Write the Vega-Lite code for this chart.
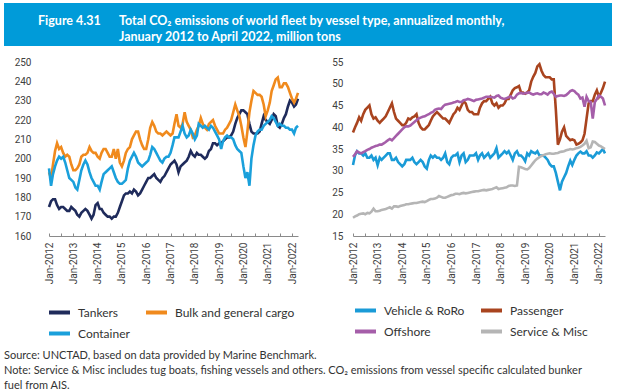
{
  "$schema": "https://vega.github.io/schema/vega-lite/v6.json",
  "background": "white",
  "padding": {"left": 4, "top": 3, "right": 4, "bottom": 2},
  "title": {"text": "Figure 4.31", "anchor": "start", "align": "left", "frame": "group", "dx": 34, "offset": -24, "color": "white", "font": "Lato", "fontSize": 12.5, "fontWeight": "bold"},
  "config": {
    "view": {"stroke": null},
    "axis": {"labelFont": "Roboto", "labelFontSize": 10, "labelColor": "#404040", "grid": false, "title": null},
    "legend": {"title": null, "columns": 2, "direction": "horizontal", "rowPadding": 0, "symbolType": "stroke", "symbolSize": 441, "symbolStrokeWidth": 4, "labelFont": "Lato", "labelFontSize": 12, "labelColor": "#333333", "labelOffset": 6, "padding": 0}
  },
  "datasets": {
    "L": [
      {"d":"2012-01","Tankers":175,"Bulk and general cargo":193,"Container":195},
      {"d":"2012-02","Tankers":178,"Bulk and general cargo":190,"Container":186},
      {"d":"2012-03","Tankers":179,"Bulk and general cargo":197,"Container":192},
      {"d":"2012-04","Tankers":179,"Bulk and general cargo":204,"Container":196},
      {"d":"2012-05","Tankers":176,"Bulk and general cargo":208,"Container":199},
      {"d":"2012-06","Tankers":174,"Bulk and general cargo":205,"Container":201},
      {"d":"2012-07","Tankers":175,"Bulk and general cargo":206,"Container":200},
      {"d":"2012-08","Tankers":175,"Bulk and general cargo":203,"Container":201},
      {"d":"2012-09","Tankers":174,"Bulk and general cargo":201,"Container":198},
      {"d":"2012-10","Tankers":173,"Bulk and general cargo":202,"Container":194},
      {"d":"2012-11","Tankers":173,"Bulk and general cargo":201,"Container":190},
      {"d":"2012-12","Tankers":175,"Bulk and general cargo":197,"Container":189},
      {"d":"2013-01","Tankers":174,"Bulk and general cargo":194,"Container":188},
      {"d":"2013-02","Tankers":173,"Bulk and general cargo":194,"Container":185},
      {"d":"2013-03","Tankers":171,"Bulk and general cargo":195,"Container":184},
      {"d":"2013-04","Tankers":170,"Bulk and general cargo":197,"Container":189},
      {"d":"2013-05","Tankers":172,"Bulk and general cargo":201,"Container":194},
      {"d":"2013-06","Tankers":173,"Bulk and general cargo":202,"Container":197},
      {"d":"2013-07","Tankers":174,"Bulk and general cargo":202,"Container":199},
      {"d":"2013-08","Tankers":173,"Bulk and general cargo":203,"Container":197},
      {"d":"2013-09","Tankers":171,"Bulk and general cargo":206,"Container":193},
      {"d":"2013-10","Tankers":169,"Bulk and general cargo":204,"Container":190},
      {"d":"2013-11","Tankers":171,"Bulk and general cargo":203,"Container":188},
      {"d":"2013-12","Tankers":176,"Bulk and general cargo":203,"Container":186},
      {"d":"2014-01","Tankers":177,"Bulk and general cargo":201,"Container":186},
      {"d":"2014-02","Tankers":174,"Bulk and general cargo":200,"Container":184},
      {"d":"2014-03","Tankers":174,"Bulk and general cargo":203,"Container":188},
      {"d":"2014-04","Tankers":172,"Bulk and general cargo":205,"Container":192},
      {"d":"2014-05","Tankers":171,"Bulk and general cargo":205,"Container":193},
      {"d":"2014-06","Tankers":170,"Bulk and general cargo":203,"Container":194},
      {"d":"2014-07","Tankers":170,"Bulk and general cargo":201,"Container":195},
      {"d":"2014-08","Tankers":169,"Bulk and general cargo":201,"Container":196},
      {"d":"2014-09","Tankers":170,"Bulk and general cargo":205,"Container":193},
      {"d":"2014-10","Tankers":170,"Bulk and general cargo":200,"Container":190},
      {"d":"2014-11","Tankers":172,"Bulk and general cargo":205,"Container":188},
      {"d":"2014-12","Tankers":175,"Bulk and general cargo":198,"Container":187},
      {"d":"2015-01","Tankers":178,"Bulk and general cargo":196,"Container":187},
      {"d":"2015-02","Tankers":181,"Bulk and general cargo":199,"Container":188},
      {"d":"2015-03","Tankers":182,"Bulk and general cargo":203,"Container":189},
      {"d":"2015-04","Tankers":182,"Bulk and general cargo":205,"Container":195},
      {"d":"2015-05","Tankers":183,"Bulk and general cargo":206,"Container":199},
      {"d":"2015-06","Tankers":182,"Bulk and general cargo":210,"Container":201},
      {"d":"2015-07","Tankers":184,"Bulk and general cargo":212,"Container":203},
      {"d":"2015-08","Tankers":183,"Bulk and general cargo":214,"Container":201},
      {"d":"2015-09","Tankers":181,"Bulk and general cargo":214,"Container":198},
      {"d":"2015-10","Tankers":182,"Bulk and general cargo":210,"Container":197},
      {"d":"2015-11","Tankers":184,"Bulk and general cargo":207,"Container":196},
      {"d":"2015-12","Tankers":186,"Bulk and general cargo":205,"Container":197},
      {"d":"2016-01","Tankers":188,"Bulk and general cargo":205,"Container":198},
      {"d":"2016-02","Tankers":190,"Bulk and general cargo":210,"Container":199},
      {"d":"2016-03","Tankers":190,"Bulk and general cargo":216,"Container":202},
      {"d":"2016-04","Tankers":191,"Bulk and general cargo":219,"Container":206},
      {"d":"2016-05","Tankers":192,"Bulk and general cargo":217,"Container":205},
      {"d":"2016-06","Tankers":190,"Bulk and general cargo":214,"Container":203},
      {"d":"2016-07","Tankers":189,"Bulk and general cargo":213,"Container":201},
      {"d":"2016-08","Tankers":188,"Bulk and general cargo":213,"Container":199},
      {"d":"2016-09","Tankers":190,"Bulk and general cargo":212,"Container":198},
      {"d":"2016-10","Tankers":191,"Bulk and general cargo":213,"Container":200},
      {"d":"2016-11","Tankers":193,"Bulk and general cargo":214,"Container":201},
      {"d":"2016-12","Tankers":195,"Bulk and general cargo":213,"Container":201},
      {"d":"2017-01","Tankers":197,"Bulk and general cargo":212,"Container":203},
      {"d":"2017-02","Tankers":198,"Bulk and general cargo":213,"Container":207},
      {"d":"2017-03","Tankers":199,"Bulk and general cargo":218,"Container":211},
      {"d":"2017-04","Tankers":197,"Bulk and general cargo":223,"Container":211},
      {"d":"2017-05","Tankers":193,"Bulk and general cargo":217,"Container":211},
      {"d":"2017-06","Tankers":196,"Bulk and general cargo":216,"Container":214},
      {"d":"2017-07","Tankers":197,"Bulk and general cargo":218,"Container":217},
      {"d":"2017-08","Tankers":198,"Bulk and general cargo":224,"Container":213},
      {"d":"2017-09","Tankers":199,"Bulk and general cargo":219,"Container":211},
      {"d":"2017-10","Tankers":201,"Bulk and general cargo":217,"Container":212},
      {"d":"2017-11","Tankers":204,"Bulk and general cargo":215,"Container":215},
      {"d":"2017-12","Tankers":202,"Bulk and general cargo":211,"Container":213},
      {"d":"2018-01","Tankers":201,"Bulk and general cargo":212,"Container":210},
      {"d":"2018-02","Tankers":203,"Bulk and general cargo":215,"Container":212},
      {"d":"2018-03","Tankers":202,"Bulk and general cargo":217,"Container":218},
      {"d":"2018-04","Tankers":202,"Bulk and general cargo":221,"Container":217},
      {"d":"2018-05","Tankers":201,"Bulk and general cargo":218,"Container":216},
      {"d":"2018-06","Tankers":200,"Bulk and general cargo":216,"Container":217},
      {"d":"2018-07","Tankers":201,"Bulk and general cargo":215,"Container":216},
      {"d":"2018-08","Tankers":204,"Bulk and general cargo":218,"Container":215},
      {"d":"2018-09","Tankers":205,"Bulk and general cargo":219,"Container":217},
      {"d":"2018-10","Tankers":208,"Bulk and general cargo":220,"Container":216},
      {"d":"2018-11","Tankers":208,"Bulk and general cargo":217,"Container":214},
      {"d":"2018-12","Tankers":207,"Bulk and general cargo":215,"Container":212},
      {"d":"2019-01","Tankers":208,"Bulk and general cargo":213,"Container":210},
      {"d":"2019-02","Tankers":208,"Bulk and general cargo":213,"Container":205},
      {"d":"2019-03","Tankers":209,"Bulk and general cargo":213,"Container":209},
      {"d":"2019-04","Tankers":210,"Bulk and general cargo":215,"Container":211},
      {"d":"2019-05","Tankers":211,"Bulk and general cargo":216,"Container":212},
      {"d":"2019-06","Tankers":211,"Bulk and general cargo":218,"Container":211},
      {"d":"2019-07","Tankers":212,"Bulk and general cargo":220,"Container":211},
      {"d":"2019-08","Tankers":214,"Bulk and general cargo":224,"Container":210},
      {"d":"2019-09","Tankers":218,"Bulk and general cargo":228,"Container":207},
      {"d":"2019-10","Tankers":221,"Bulk and general cargo":225,"Container":205},
      {"d":"2019-11","Tankers":223,"Bulk and general cargo":222,"Container":204},
      {"d":"2019-12","Tankers":225,"Bulk and general cargo":217,"Container":203},
      {"d":"2020-01","Tankers":225,"Bulk and general cargo":211,"Container":196},
      {"d":"2020-02","Tankers":224,"Bulk and general cargo":206,"Container":190},
      {"d":"2020-03","Tankers":223,"Bulk and general cargo":214,"Container":193},
      {"d":"2020-04","Tankers":218,"Bulk and general cargo":224,"Container":186},
      {"d":"2020-05","Tankers":214,"Bulk and general cargo":230,"Container":200},
      {"d":"2020-06","Tankers":213,"Bulk and general cargo":235,"Container":207},
      {"d":"2020-07","Tankers":213,"Bulk and general cargo":234,"Container":212},
      {"d":"2020-08","Tankers":213,"Bulk and general cargo":233,"Container":214},
      {"d":"2020-09","Tankers":214,"Bulk and general cargo":233,"Container":215},
      {"d":"2020-10","Tankers":218,"Bulk and general cargo":232,"Container":215},
      {"d":"2020-11","Tankers":222,"Bulk and general cargo":228,"Container":217},
      {"d":"2020-12","Tankers":220,"Bulk and general cargo":222,"Container":218},
      {"d":"2021-01","Tankers":219,"Bulk and general cargo":225,"Container":219},
      {"d":"2021-02","Tankers":218,"Bulk and general cargo":229,"Container":220},
      {"d":"2021-03","Tankers":220,"Bulk and general cargo":235,"Container":222},
      {"d":"2021-04","Tankers":223,"Bulk and general cargo":238,"Container":221},
      {"d":"2021-05","Tankers":222,"Bulk and general cargo":241,"Container":219},
      {"d":"2021-06","Tankers":217,"Bulk and general cargo":242,"Container":217},
      {"d":"2021-07","Tankers":216,"Bulk and general cargo":237,"Container":218},
      {"d":"2021-08","Tankers":218,"Bulk and general cargo":237,"Container":217},
      {"d":"2021-09","Tankers":221,"Bulk and general cargo":239,"Container":217},
      {"d":"2021-10","Tankers":223,"Bulk and general cargo":239,"Container":216},
      {"d":"2021-11","Tankers":227,"Bulk and general cargo":237,"Container":216},
      {"d":"2021-12","Tankers":230,"Bulk and general cargo":234,"Container":215},
      {"d":"2022-01","Tankers":229,"Bulk and general cargo":231,"Container":215},
      {"d":"2022-02","Tankers":227,"Bulk and general cargo":229,"Container":213},
      {"d":"2022-03","Tankers":228,"Bulk and general cargo":231,"Container":216},
      {"d":"2022-04","Tankers":231,"Bulk and general cargo":234,"Container":217}
    ],
    "R": [
      {"d":"2012-01","Vehicle & RoRo":31.3,"Passenger":38.8,"Offshore":33.2,"Service & Misc":19.2},
      {"d":"2012-02","Vehicle & RoRo":33.6,"Passenger":40,"Offshore":33.8,"Service & Misc":19.5},
      {"d":"2012-03","Vehicle & RoRo":34.5,"Passenger":41,"Offshore":34.5,"Service & Misc":19.7},
      {"d":"2012-04","Vehicle & RoRo":34,"Passenger":42.3,"Offshore":34.2,"Service & Misc":20},
      {"d":"2012-05","Vehicle & RoRo":34,"Passenger":41.5,"Offshore":34,"Service & Misc":20.1},
      {"d":"2012-06","Vehicle & RoRo":33.5,"Passenger":43,"Offshore":34.3,"Service & Misc":20.2},
      {"d":"2012-07","Vehicle & RoRo":34,"Passenger":44,"Offshore":34.5,"Service & Misc":20},
      {"d":"2012-08","Vehicle & RoRo":33,"Passenger":44.5,"Offshore":34.8,"Service & Misc":20.3},
      {"d":"2012-09","Vehicle & RoRo":33,"Passenger":45,"Offshore":35,"Service & Misc":20.2},
      {"d":"2012-10","Vehicle & RoRo":33.5,"Passenger":43,"Offshore":35.3,"Service & Misc":20.6},
      {"d":"2012-11","Vehicle & RoRo":32.5,"Passenger":42,"Offshore":35.5,"Service & Misc":21.3},
      {"d":"2012-12","Vehicle & RoRo":33,"Passenger":42.3,"Offshore":35.7,"Service & Misc":20.7},
      {"d":"2013-01","Vehicle & RoRo":31.3,"Passenger":41.5,"Offshore":35.8,"Service & Misc":20.7},
      {"d":"2013-02","Vehicle & RoRo":33,"Passenger":41,"Offshore":36,"Service & Misc":20.8},
      {"d":"2013-03","Vehicle & RoRo":32.5,"Passenger":41.5,"Offshore":36,"Service & Misc":21},
      {"d":"2013-04","Vehicle & RoRo":33,"Passenger":42,"Offshore":36.3,"Service & Misc":21.1},
      {"d":"2013-05","Vehicle & RoRo":33.5,"Passenger":42.5,"Offshore":36.6,"Service & Misc":21.2},
      {"d":"2013-06","Vehicle & RoRo":34,"Passenger":43.5,"Offshore":37,"Service & Misc":21.4},
      {"d":"2013-07","Vehicle & RoRo":34,"Passenger":44.5,"Offshore":37.3,"Service & Misc":21.6},
      {"d":"2013-08","Vehicle & RoRo":32.5,"Passenger":45.5,"Offshore":37,"Service & Misc":21.3},
      {"d":"2013-09","Vehicle & RoRo":32.5,"Passenger":43.5,"Offshore":37.5,"Service & Misc":21.8},
      {"d":"2013-10","Vehicle & RoRo":33,"Passenger":42,"Offshore":38,"Service & Misc":21.8},
      {"d":"2013-11","Vehicle & RoRo":32,"Passenger":41.5,"Offshore":38.5,"Service & Misc":21.7},
      {"d":"2013-12","Vehicle & RoRo":31.5,"Passenger":41,"Offshore":39,"Service & Misc":21.9},
      {"d":"2014-01","Vehicle & RoRo":31,"Passenger":40.5,"Offshore":39.5,"Service & Misc":22},
      {"d":"2014-02","Vehicle & RoRo":31.5,"Passenger":40.5,"Offshore":40,"Service & Misc":22.1},
      {"d":"2014-03","Vehicle & RoRo":32.5,"Passenger":41,"Offshore":40.2,"Service & Misc":22.3},
      {"d":"2014-04","Vehicle & RoRo":32.5,"Passenger":42,"Offshore":40.2,"Service & Misc":22.3},
      {"d":"2014-05","Vehicle & RoRo":32.5,"Passenger":41.8,"Offshore":40.4,"Service & Misc":22.4},
      {"d":"2014-06","Vehicle & RoRo":33,"Passenger":42.3,"Offshore":40.8,"Service & Misc":22.5},
      {"d":"2014-07","Vehicle & RoRo":32,"Passenger":42.5,"Offshore":41.2,"Service & Misc":22.6},
      {"d":"2014-08","Vehicle & RoRo":31.5,"Passenger":43,"Offshore":41.6,"Service & Misc":22.6},
      {"d":"2014-09","Vehicle & RoRo":32,"Passenger":41,"Offshore":42,"Service & Misc":22.7},
      {"d":"2014-10","Vehicle & RoRo":32.5,"Passenger":40,"Offshore":42.2,"Service & Misc":22.8},
      {"d":"2014-11","Vehicle & RoRo":32,"Passenger":39.5,"Offshore":42.4,"Service & Misc":22.9},
      {"d":"2014-12","Vehicle & RoRo":31,"Passenger":39.5,"Offshore":42.5,"Service & Misc":22.8},
      {"d":"2015-01","Vehicle & RoRo":30.5,"Passenger":40,"Offshore":42.8,"Service & Misc":23},
      {"d":"2015-02","Vehicle & RoRo":32.5,"Passenger":40.5,"Offshore":43,"Service & Misc":23.3},
      {"d":"2015-03","Vehicle & RoRo":33.5,"Passenger":41.5,"Offshore":43.3,"Service & Misc":23.5},
      {"d":"2015-04","Vehicle & RoRo":33,"Passenger":42.5,"Offshore":43.5,"Service & Misc":23.5},
      {"d":"2015-05","Vehicle & RoRo":33.5,"Passenger":43,"Offshore":44,"Service & Misc":23.6},
      {"d":"2015-06","Vehicle & RoRo":33,"Passenger":43.5,"Offshore":44.2,"Service & Misc":23.8},
      {"d":"2015-07","Vehicle & RoRo":33,"Passenger":43,"Offshore":44.3,"Service & Misc":24.2},
      {"d":"2015-08","Vehicle & RoRo":32.5,"Passenger":42.5,"Offshore":44.2,"Service & Misc":24},
      {"d":"2015-09","Vehicle & RoRo":33,"Passenger":42,"Offshore":44.8,"Service & Misc":23.8},
      {"d":"2015-10","Vehicle & RoRo":34,"Passenger":42,"Offshore":45.2,"Service & Misc":23.8},
      {"d":"2015-11","Vehicle & RoRo":32,"Passenger":41.5,"Offshore":45.3,"Service & Misc":24},
      {"d":"2015-12","Vehicle & RoRo":31.5,"Passenger":41,"Offshore":45.4,"Service & Misc":24.2},
      {"d":"2016-01","Vehicle & RoRo":33,"Passenger":42,"Offshore":45.5,"Service & Misc":24.4},
      {"d":"2016-02","Vehicle & RoRo":33.5,"Passenger":43,"Offshore":45.7,"Service & Misc":24.5},
      {"d":"2016-03","Vehicle & RoRo":33.5,"Passenger":43.5,"Offshore":45.8,"Service & Misc":24.7},
      {"d":"2016-04","Vehicle & RoRo":34,"Passenger":44.5,"Offshore":46,"Service & Misc":24.7},
      {"d":"2016-05","Vehicle & RoRo":32,"Passenger":44,"Offshore":45.8,"Service & Misc":24.6},
      {"d":"2016-06","Vehicle & RoRo":33.5,"Passenger":45,"Offshore":45.8,"Service & Misc":24.8},
      {"d":"2016-07","Vehicle & RoRo":34,"Passenger":46,"Offshore":46.2,"Service & Misc":24.9},
      {"d":"2016-08","Vehicle & RoRo":32,"Passenger":45.5,"Offshore":46.3,"Service & Misc":24.8},
      {"d":"2016-09","Vehicle & RoRo":32.5,"Passenger":44,"Offshore":46.5,"Service & Misc":24.9},
      {"d":"2016-10","Vehicle & RoRo":33.5,"Passenger":43.5,"Offshore":46.4,"Service & Misc":25},
      {"d":"2016-11","Vehicle & RoRo":33.5,"Passenger":43.5,"Offshore":46.2,"Service & Misc":25.1},
      {"d":"2016-12","Vehicle & RoRo":33.5,"Passenger":43,"Offshore":46,"Service & Misc":25.2},
      {"d":"2017-01","Vehicle & RoRo":34,"Passenger":43,"Offshore":46.3,"Service & Misc":25.3},
      {"d":"2017-02","Vehicle & RoRo":32.5,"Passenger":43,"Offshore":46.4,"Service & Misc":25.3},
      {"d":"2017-03","Vehicle & RoRo":33.5,"Passenger":44.5,"Offshore":46.5,"Service & Misc":25.4},
      {"d":"2017-04","Vehicle & RoRo":34,"Passenger":45.5,"Offshore":46.6,"Service & Misc":25.5},
      {"d":"2017-05","Vehicle & RoRo":33,"Passenger":46,"Offshore":46.8,"Service & Misc":25.6},
      {"d":"2017-06","Vehicle & RoRo":33.5,"Passenger":46,"Offshore":47,"Service & Misc":25.5},
      {"d":"2017-07","Vehicle & RoRo":34,"Passenger":46.5,"Offshore":47,"Service & Misc":25.6},
      {"d":"2017-08","Vehicle & RoRo":33,"Passenger":47,"Offshore":47,"Service & Misc":25.7},
      {"d":"2017-09","Vehicle & RoRo":33.5,"Passenger":45.5,"Offshore":46.9,"Service & Misc":25.8},
      {"d":"2017-10","Vehicle & RoRo":34,"Passenger":45,"Offshore":46.8,"Service & Misc":26},
      {"d":"2017-11","Vehicle & RoRo":35.2,"Passenger":45.5,"Offshore":47.2,"Service & Misc":26.2},
      {"d":"2017-12","Vehicle & RoRo":33,"Passenger":44.5,"Offshore":47.3,"Service & Misc":25.8},
      {"d":"2018-01","Vehicle & RoRo":33.5,"Passenger":45,"Offshore":46.8,"Service & Misc":25.9},
      {"d":"2018-02","Vehicle & RoRo":34,"Passenger":45,"Offshore":46.6,"Service & Misc":26},
      {"d":"2018-03","Vehicle & RoRo":34.5,"Passenger":45.5,"Offshore":46.5,"Service & Misc":26.1},
      {"d":"2018-04","Vehicle & RoRo":34,"Passenger":46.5,"Offshore":46.7,"Service & Misc":26.2},
      {"d":"2018-05","Vehicle & RoRo":34.5,"Passenger":46.5,"Offshore":46.9,"Service & Misc":26.5},
      {"d":"2018-06","Vehicle & RoRo":33.5,"Passenger":47.5,"Offshore":47.1,"Service & Misc":26.6},
      {"d":"2018-07","Vehicle & RoRo":32.5,"Passenger":48.5,"Offshore":46.6,"Service & Misc":26.6},
      {"d":"2018-08","Vehicle & RoRo":34,"Passenger":49,"Offshore":46.8,"Service & Misc":26.5},
      {"d":"2018-09","Vehicle & RoRo":34.5,"Passenger":49.2,"Offshore":47.5,"Service & Misc":26.6},
      {"d":"2018-10","Vehicle & RoRo":33.5,"Passenger":49.5,"Offshore":47.8,"Service & Misc":30.9},
      {"d":"2018-11","Vehicle & RoRo":33.5,"Passenger":48,"Offshore":47.9,"Service & Misc":30.8},
      {"d":"2018-12","Vehicle & RoRo":33,"Passenger":48,"Offshore":47.7,"Service & Misc":30.6},
      {"d":"2019-01","Vehicle & RoRo":32.2,"Passenger":47.7,"Offshore":47.8,"Service & Misc":30.4},
      {"d":"2019-02","Vehicle & RoRo":34,"Passenger":48,"Offshore":47.9,"Service & Misc":30.3},
      {"d":"2019-03","Vehicle & RoRo":33.5,"Passenger":48.5,"Offshore":48,"Service & Misc":30.6},
      {"d":"2019-04","Vehicle & RoRo":34.5,"Passenger":50.5,"Offshore":47.7,"Service & Misc":31.2},
      {"d":"2019-05","Vehicle & RoRo":34.2,"Passenger":51.6,"Offshore":47.5,"Service & Misc":31.8},
      {"d":"2019-06","Vehicle & RoRo":34,"Passenger":52.5,"Offshore":47.7,"Service & Misc":32.4},
      {"d":"2019-07","Vehicle & RoRo":34.5,"Passenger":54,"Offshore":47.8,"Service & Misc":32.8},
      {"d":"2019-08","Vehicle & RoRo":33.5,"Passenger":54.5,"Offshore":47.6,"Service & Misc":33.1},
      {"d":"2019-09","Vehicle & RoRo":33.5,"Passenger":53,"Offshore":47.6,"Service & Misc":33.4},
      {"d":"2019-10","Vehicle & RoRo":33.5,"Passenger":52,"Offshore":48,"Service & Misc":33.6},
      {"d":"2019-11","Vehicle & RoRo":33,"Passenger":51.5,"Offshore":47.8,"Service & Misc":33.8},
      {"d":"2019-12","Vehicle & RoRo":32.5,"Passenger":51.5,"Offshore":47.5,"Service & Misc":33.9},
      {"d":"2020-01","Vehicle & RoRo":31.5,"Passenger":51.5,"Offshore":48,"Service & Misc":34},
      {"d":"2020-02","Vehicle & RoRo":31,"Passenger":51,"Offshore":48.2,"Service & Misc":33.9},
      {"d":"2020-03","Vehicle & RoRo":31,"Passenger":51,"Offshore":47.7,"Service & Misc":33.9},
      {"d":"2020-04","Vehicle & RoRo":29.5,"Passenger":44,"Offshore":47,"Service & Misc":34},
      {"d":"2020-05","Vehicle & RoRo":27.5,"Passenger":36,"Offshore":47.2,"Service & Misc":34.1},
      {"d":"2020-06","Vehicle & RoRo":25.5,"Passenger":37.2,"Offshore":47.3,"Service & Misc":34.3},
      {"d":"2020-07","Vehicle & RoRo":27.5,"Passenger":39,"Offshore":47.3,"Service & Misc":34.4},
      {"d":"2020-08","Vehicle & RoRo":28.5,"Passenger":40,"Offshore":47.2,"Service & Misc":34.5},
      {"d":"2020-09","Vehicle & RoRo":29.5,"Passenger":38,"Offshore":47.4,"Service & Misc":34.7},
      {"d":"2020-10","Vehicle & RoRo":31,"Passenger":37.5,"Offshore":47.8,"Service & Misc":34.8},
      {"d":"2020-11","Vehicle & RoRo":32.3,"Passenger":37,"Offshore":48.3,"Service & Misc":35},
      {"d":"2020-12","Vehicle & RoRo":31.3,"Passenger":37.2,"Offshore":48.5,"Service & Misc":34.9},
      {"d":"2021-01","Vehicle & RoRo":32.5,"Passenger":37,"Offshore":48.3,"Service & Misc":35},
      {"d":"2021-02","Vehicle & RoRo":33.5,"Passenger":36,"Offshore":47.8,"Service & Misc":35.2},
      {"d":"2021-03","Vehicle & RoRo":34,"Passenger":36.2,"Offshore":47.5,"Service & Misc":35.3},
      {"d":"2021-04","Vehicle & RoRo":34.4,"Passenger":36.5,"Offshore":46.6,"Service & Misc":35.5},
      {"d":"2021-05","Vehicle & RoRo":34,"Passenger":37,"Offshore":46.8,"Service & Misc":35.8},
      {"d":"2021-06","Vehicle & RoRo":34,"Passenger":38.5,"Offshore":44.7,"Service & Misc":36.2},
      {"d":"2021-07","Vehicle & RoRo":34.5,"Passenger":42,"Offshore":47,"Service & Misc":36.9},
      {"d":"2021-08","Vehicle & RoRo":33.5,"Passenger":45.5,"Offshore":46,"Service & Misc":35.2},
      {"d":"2021-09","Vehicle & RoRo":33.5,"Passenger":46,"Offshore":45.8,"Service & Misc":35.4},
      {"d":"2021-10","Vehicle & RoRo":33,"Passenger":46,"Offshore":42,"Service & Misc":36.7},
      {"d":"2021-11","Vehicle & RoRo":33.5,"Passenger":47.5,"Offshore":45.8,"Service & Misc":36.6},
      {"d":"2021-12","Vehicle & RoRo":34.2,"Passenger":48.5,"Offshore":46.5,"Service & Misc":36.2},
      {"d":"2022-01","Vehicle & RoRo":34,"Passenger":47,"Offshore":47.3,"Service & Misc":35.8},
      {"d":"2022-02","Vehicle & RoRo":34.5,"Passenger":48,"Offshore":47,"Service & Misc":35.6},
      {"d":"2022-03","Vehicle & RoRo":35,"Passenger":49,"Offshore":46.6,"Service & Misc":35.3},
      {"d":"2022-04","Vehicle & RoRo":34,"Passenger":50.5,"Offshore":45,"Service & Misc":35}
    ]
  },
  "spacing": 11,
  "vconcat": [
    {
      "width": 608,
      "height": 43,
      "data": {"values": [{"band": "title"}]},
      "mark": {"type": "rect", "color": "#009bd9"},
      "title": {"text": ["Total CO₂ emissions of world fleet by vessel type, annualized monthly,", "January 2012 to April 2022, million tons"], "anchor": "start", "align": "left", "frame": "group", "dx": 115, "offset": -40, "color": "white", "font": "Lato", "fontSize": 12.5, "fontWeight": "bold", "lineHeight": 16}
    },
    {
      "spacing": 55,
      "bounds": "flush",
      "resolve": {"scale": {"color": "independent"}, "legend": {"color": "independent"}},
      "title": {"text": ["Source:  UNCTAD, based on data provided by Marine Benchmark.", "Note:  Service & Misc includes tug boats, fishing vessels and others. CO₂ emissions from vessel specific calculated bunker", "fuel from AIS."], "orient": "bottom", "anchor": "start", "align": "left", "frame": "bounds", "offset": 8, "color": "#333333", "font": "Lato", "fontSize": 11, "fontWeight": "normal", "lineHeight": 15},
      "hconcat": [
        {
          "width": 294,
          "height": 174,
          "data": {"name": "L"},
          "transform": [{"fold": ["Tankers", "Bulk and general cargo", "Container"], "as": ["type", "value"]}],
          "mark": {"type": "line", "strokeWidth": 2.6},
          "encoding": {
            "x": {"field": "d", "type": "temporal", "scale": {"type": "utc", "range": [45, 294], "domain": [{"year": 2012, "month": 1, "date": 1, "utc": true}, {"year": 2022, "month": 4, "date": 1, "utc": true}]},
              "axis": {"labelAngle": -90, "tickCount": {"interval": "month", "step": 6}, "labelExpr": "utcFormat(datum.value, '%m') == '01' ? utcFormat(datum.value, '%b-%Y') : ''", "labelOverlap": false, "labelFlush": false, "domainColor": "#8a8a8a", "tickColor": "#8a8a8a", "tickSize": -3, "labelPadding": 9}},
            "y": {"field": "value", "type": "quantitative", "scale": {"domain": [160, 250], "nice": false, "zero": false},
              "axis": {"values": [160, 170, 180, 190, 200, 210, 220, 230, 240, 250], "domain": false, "ticks": false, "labelPadding": 0, "offset": -27}},
            "color": {"field": "type", "type": "nominal", "scale": {"domain": ["Tankers", "Bulk and general cargo", "Container"], "range": ["#1f2b5b", "#f08a1d", "#1aa0db"]},
              "legend": {"orient": "none", "legendX": 43, "legendY": 238, "gridAlign": "none", "columnPadding": 8}}
          }
        },
        {
          "width": 252,
          "height": 174,
          "data": {"name": "R"},
          "transform": [{"fold": ["Vehicle & RoRo", "Passenger", "Offshore", "Service & Misc"], "as": ["type", "value"]}],
          "mark": {"type": "line", "strokeWidth": 2.6},
          "encoding": {
            "x": {"field": "d", "type": "temporal", "scale": {"type": "utc", "domain": [{"year": 2012, "month": 1, "date": 1, "utc": true}, {"year": 2022, "month": 4, "date": 1, "utc": true}]},
              "axis": {"labelAngle": -90, "tickCount": {"interval": "month", "step": 6}, "labelExpr": "utcFormat(datum.value, '%m') == '01' ? utcFormat(datum.value, '%b-%Y') : ''", "labelOverlap": false, "labelFlush": false, "domainColor": "#8a8a8a", "tickColor": "#8a8a8a", "tickSize": -3, "labelPadding": 9}},
            "y": {"field": "value", "type": "quantitative", "scale": {"domain": [15, 55], "nice": false, "zero": false},
              "axis": {"values": [15, 20, 25, 30, 35, 40, 45, 50, 55], "domain": false, "ticks": false, "labelPadding": 10}},
            "color": {"field": "type", "type": "nominal", "scale": {"domain": ["Vehicle & RoRo", "Passenger", "Offshore", "Service & Misc"], "range": ["#1a9bd7", "#a9441f", "#a55ea9", "#b5b5b5"]},
              "legend": {"orient": "bottom", "offset": 14, "gridAlign": "none", "columnPadding": 8}}
          }
        }
      ]
    }
  ]
}
